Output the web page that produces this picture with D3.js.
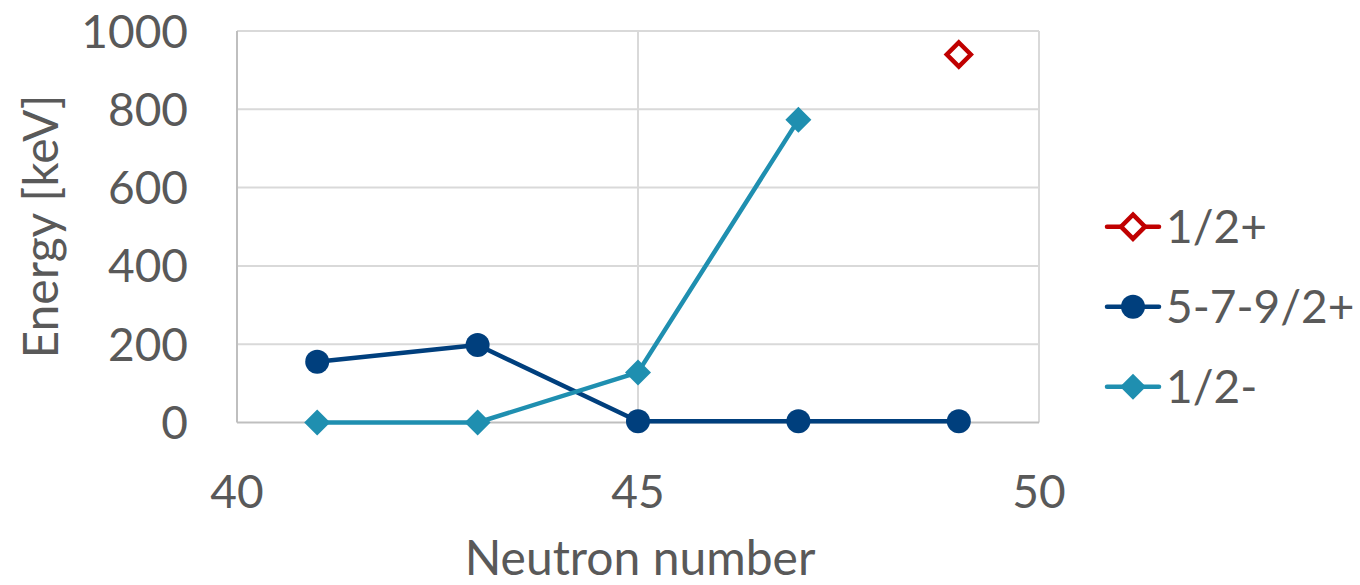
<!DOCTYPE html>
<html><head><meta charset="utf-8">
<script src="https://cdn.jsdelivr.net/npm/d3@7"></script>
<style>body{margin:0;background:#fff}svg text{font-family:Lato,"Open Sans",sans-serif;fill:#595959}</style>
</head><body><svg id="c" width="1360" height="585"></svg>
<script>
const neutrons = [41, 43, 45, 47, 49];
const seriesNames = ["1/2+", "5-7-9/2+", "1/2-"];
const halfPlus = [null, null, null, null, 940];
const fiveSevenNine = [155, 198, 3, 3, 3];
const halfMinus = [0, 0, 128, 773, null];
const xTicks = [40, 45, 50];
const yTicks = [0, 200, 400, 600, 800, 1000];

const svg = d3.select("#c");
const x = d3.scaleLinear().domain([40, 50]).range([237, 1039]);
const y = d3.scaleLinear().domain([0, 1000]).range([422.5, 31]);

// gridlines
svg.append("g").selectAll("line").data(yTicks.filter(d=>d>0)).join("line")
  .attr("x1", x(40)).attr("x2", x(50)).attr("y1", d=>y(d)).attr("y2", d=>y(d))
  .attr("stroke", "#d9d9d9").attr("stroke-width", 2);
svg.append("g").selectAll("line").data(xTicks).join("line")
  .attr("y1", y(0)).attr("y2", y(1000)).attr("x1", d=>x(d)).attr("x2", d=>x(d))
  .attr("stroke", d=>d===40?"#bfbfbf":"#d9d9d9").attr("stroke-width", 2);
svg.append("line").attr("x1", x(40)).attr("x2", x(50)).attr("y1", y(0)).attr("y2", y(0))
  .attr("stroke", "#bfbfbf").attr("stroke-width", 2);

// tick labels
svg.append("g").selectAll("text").data(yTicks).join("text")
  .attr("x", 188).attr("y", d=>y(d)).attr("dy", "0.36em").attr("text-anchor", "end")
  .attr("font-size", 46).text(d=>d);
svg.append("g").selectAll("text").data(xTicks).join("text")
  .attr("x", d=>x(d)).attr("y", 508).attr("text-anchor", "middle")
  .attr("font-size", 46).text(d=>d);

// axis titles
svg.append("text").attr("transform", "translate(58,226.5) rotate(-90)")
  .attr("text-anchor", "middle").attr("font-size", 48).text("Energy [keV]");
svg.append("text").attr("x", 640).attr("y", 575).attr("text-anchor", "middle")
  .attr("font-size", 48).text("Neutron number");

const colors = ["#c00000", "#003f7d", "#1f8fb0"];
const data = [halfPlus, fiveSevenNine, halfMinus];
const shapes = ["diamondOpen", "circle", "diamond"];

function drawMarker(g, shape, color, cx, cy) {
  if (shape === "circle") {
    g.append("circle").attr("cx", cx).attr("cy", cy).attr("r", 12).attr("fill", color);
  } else if (shape === "diamond") {
    g.append("path").attr("d", `M${cx},${cy-13}L${cx+13},${cy}L${cx},${cy+13}L${cx-13},${cy}Z`).attr("fill", color);
  } else {
    g.append("path").attr("d", `M${cx},${cy-12}L${cx+12},${cy}L${cx},${cy+12}L${cx-12},${cy}Z`)
      .attr("fill", "#fff").attr("stroke", color).attr("stroke-width", 4.5);
  }
}

const line = d3.line().defined(d=>d[1]!==null).x(d=>x(d[0])).y(d=>y(d[1]));
[1,2,0].forEach(i=>{
  const pts = neutrons.map((n,j)=>[n, data[i][j]]);
  svg.append("path").datum(pts).attr("d", line).attr("fill", "none")
    .attr("stroke", colors[i]).attr("stroke-width", 4.5).attr("stroke-linejoin", "round");
  const g = svg.append("g");
  pts.filter(p=>p[1]!==null).forEach(p=>drawMarker(g, shapes[i], colors[i], x(p[0]), y(p[1])));
});

// legend
seriesNames.forEach((name,i)=>{
  const ly = 226.7 + i*80;
  const g = svg.append("g");
  g.append("line").attr("x1", 1107).attr("x2", 1159).attr("y1", ly).attr("y2", ly)
    .attr("stroke", colors[i]).attr("stroke-width", 4.5).attr("stroke-linecap", "round");
  drawMarker(g, shapes[i], colors[i], 1133, ly);
  g.append("text").attr("x", 1166).attr("y", ly).attr("dy", "0.36em").attr("font-size", 46).text(name);
});
</script></body></html>
